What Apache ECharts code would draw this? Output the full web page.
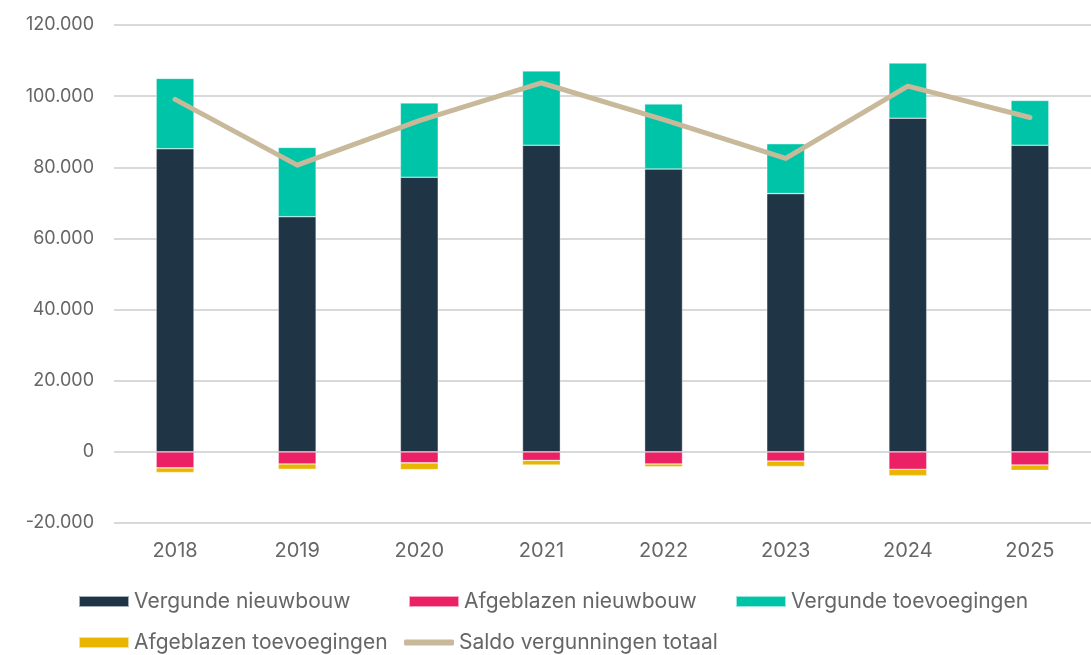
<!DOCTYPE html>
<html>
<head>
<meta charset="utf-8">
<script src="https://cdn.jsdelivr.net/npm/echarts@6/dist/echarts.min.js"></script>
<style>
  html,body{margin:0;padding:0;background:#fff}
  #chart{width:1091px;height:655px}
</style>
</head>
<body>
<div id="chart"></div>
<script>
const years = ["2018","2019","2020","2021","2022","2023","2024","2025"];
const vergundNieuwbouw = [85200, 66100, 77200, 86200, 79500, 72600, 93800, 86200];
const afgeblazenNieuwbouw = [-4500, -3400, -3100, -2400, -3400, -2600, -4900, -3700];
const vergundToevoegingen = [19800, 19500, 20900, 20900, 18300, 14000, 15500, 12600];
const afgeblazenToevoegingen = [-1300, -1500, -1900, -1300, -800, -1500, -1800, -1500];
const saldoTotaal = [99100, 80600, 93100, 103700, 93400, 82500, 102800, 94000];

const txt = "#666666";
const font = "Inter";
const fmt = v => v === 0 ? "0" : (v < 0 ? "-" : "") + Math.abs(v).toLocaleString("nl-NL");

const chart = echarts.init(document.getElementById("chart"));

const bar = (name, data, color) => ({
  name, type:"bar", stack:"total", data, barWidth:"31%",
  itemStyle:{color, borderColor:"rgba(255,255,255,.6)", borderWidth:0.6}
});

const leg = (name, left, top, icon) => ({
  data:[name], left, top, itemWidth:50, itemHeight: icon === "line" ? 6 : 11,
  icon: icon === "line" ? "roundRect" : "rect",
  textStyle:{color:txt, fontSize:21, fontFamily:font}, padding:0
});

chart.setOption({
  backgroundColor:"#fff",
  animation:false,
  legend:[
    leg("Vergunde nieuwbouw", 78, 591),
    leg("Afgeblazen nieuwbouw", 408, 591),
    leg("Vergunde toevoegingen", 735, 591),
    leg("Afgeblazen toevoegingen", 78, 632),
    leg("Saldo vergunningen totaal", 404, 632, "line")
  ],
  grid:{left:114, right:-10, top:25, bottom:132},
  xAxis:{
    type:"category", data:years, position:"bottom",
    axisLine:{show:false}, axisTick:{show:false},
    axisLabel:{color:txt, fontSize:20, fontFamily:font, margin:18}
  },
  yAxis:{
    type:"value", min:-20000, max:120000, interval:20000,
    axisLabel:{color:txt, fontSize:18, fontFamily:font, margin:20, formatter:fmt},
    splitLine:{lineStyle:{color:"#d9d9d9", width:2}}
  },
  series:[
    bar("Vergunde nieuwbouw", vergundNieuwbouw, "#1f3545"),
    bar("Afgeblazen nieuwbouw", afgeblazenNieuwbouw, "#ec2064"),
    bar("Vergunde toevoegingen", vergundToevoegingen, "#00c4a7"),
    bar("Afgeblazen toevoegingen", afgeblazenToevoegingen, "#e8b500"),
    {name:"Saldo vergunningen totaal", type:"line", data:saldoTotaal, showSymbol:false, symbol:"none",
      z:5, lineStyle:{color:"#c8b99a", width:5, cap:"round", join:"round"}, itemStyle:{color:"#c8b99a"}}
  ]
});
</script>
</body>
</html>
